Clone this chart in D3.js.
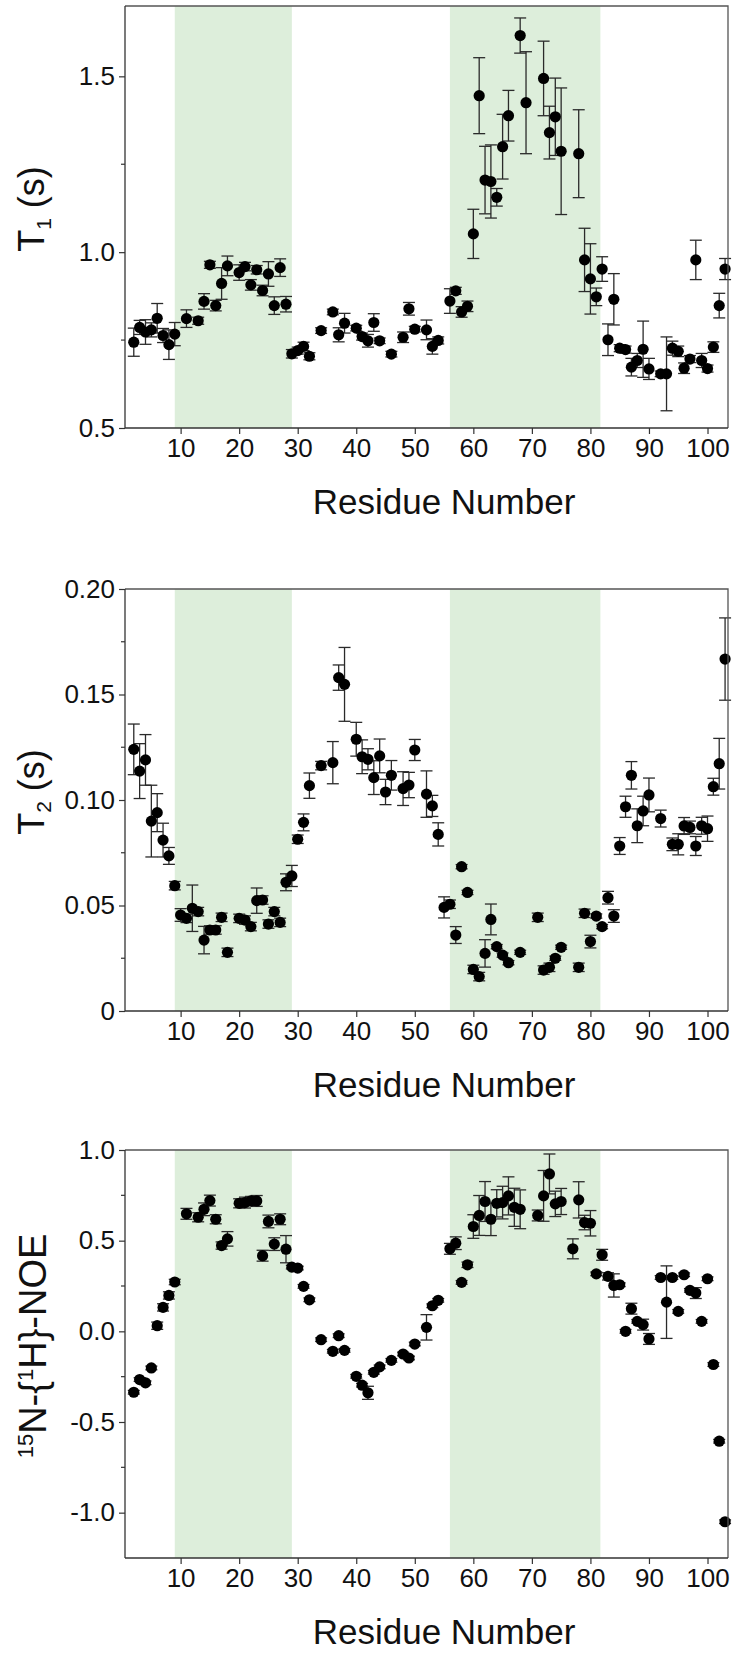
<!DOCTYPE html>
<html>
<head>
<meta charset="utf-8">
<script src="https://cdn.jsdelivr.net/npm/d3@7"></script>
<style>
  body { margin: 0; background: #fff; }
  svg { display: block; }
  text { font-family: Arial, "Liberation Sans", sans-serif; fill: #111; }
</style>
</head>
<body>
<svg id="chart" width="733" height="1660"></svg>
<script>
// ---- Data ---------------------------------------------------------------
// 15N longitudinal relaxation time T1 (s)
const t1Residues = [2,3,4,5,6,7,8,9,11,13,14,15,16,17,18,20,21,22,23,24,25,26,27,28,29,30,31,32,34,36,37,38,40,41,42,43,44,46,48,49,50,52,53,54,56,57,58,59,60,61,62,63,64,65,66,68,69,72,73,74,75,78,79,80,81,82,83,84,85,86,87,88,89,90,92,93,94,95,96,97,98,99,100,101,102,103];
const t1Values = [0.744,0.786,0.773,0.779,0.812,0.763,0.737,0.767,0.811,0.805,0.860,0.964,0.848,0.911,0.961,0.942,0.959,0.907,0.950,0.891,0.938,0.848,0.956,0.852,0.711,0.720,0.732,0.704,0.777,0.830,0.765,0.798,0.784,0.760,0.748,0.800,0.748,0.710,0.758,0.839,0.781,0.779,0.732,0.749,0.861,0.890,0.830,0.846,1.052,1.445,1.205,1.201,1.156,1.300,1.388,1.616,1.425,1.494,1.340,1.385,1.287,1.280,0.978,0.924,0.873,0.952,0.751,0.866,0.727,0.723,0.673,0.692,0.724,0.668,0.654,0.654,0.727,0.718,0.670,0.696,0.978,0.692,0.669,0.730,0.848,0.952];
const t1Errors = [0.040,0.020,0.035,0.020,0.042,0.020,0.042,0.033,0.025,0.010,0.022,0.010,0.015,0.045,0.028,0.022,0.012,0.015,0.012,0.015,0.035,0.025,0.025,0.022,0.012,0.010,0.012,0.010,0.008,0.008,0.020,0.028,0.008,0.010,0.018,0.025,0.008,0.008,0.015,0.018,0.008,0.028,0.022,0.010,0.035,0.010,0.015,0.015,0.070,0.108,0.096,0.104,0.025,0.092,0.072,0.050,0.145,0.106,0.075,0.110,0.180,0.125,0.090,0.100,0.025,0.035,0.045,0.073,0.010,0.010,0.025,0.020,0.080,0.030,0.008,0.105,0.020,0.015,0.015,0.010,0.056,0.020,0.010,0.015,0.035,0.030];

// 15N transverse relaxation time T2 (s)
const t2Residues = [2,3,4,5,6,7,8,9,10,11,12,13,14,15,16,17,18,20,21,22,23,24,25,26,27,28,29,30,31,32,34,36,37,38,40,41,42,43,44,45,46,48,49,50,52,53,54,55,56,57,58,59,60,61,62,63,64,65,66,68,71,72,73,74,75,78,79,80,81,82,83,84,85,86,87,88,89,90,92,94,95,96,97,98,99,100,101,102,103];
const t2Values = [0.124,0.1137,0.119,0.090,0.094,0.081,0.0735,0.0594,0.0455,0.0439,0.0487,0.0471,0.0336,0.0384,0.0384,0.0444,0.0278,0.0439,0.0431,0.040,0.0523,0.0526,0.0412,0.0471,0.042,0.061,0.064,0.0814,0.0894,0.1068,0.1163,0.1177,0.158,0.1548,0.1288,0.1205,0.1193,0.1106,0.1209,0.1038,0.1117,0.1054,0.1071,0.1237,0.1028,0.0972,0.0837,0.0491,0.0506,0.036,0.0684,0.0562,0.0197,0.0163,0.0273,0.0434,0.0305,0.0265,0.0229,0.0278,0.0444,0.0194,0.0207,0.025,0.0302,0.0207,0.0463,0.0329,0.045,0.040,0.0537,0.045,0.0782,0.0968,0.1117,0.0878,0.0948,0.1024,0.0912,0.079,0.079,0.0877,0.087,0.0782,0.0878,0.0864,0.1063,0.1172,0.1668];
const t2Errors = [0.012,0.013,0.012,0.017,0.009,0.008,0.004,0.002,0.003,0.002,0.011,0.002,0.0065,0.002,0.002,0.002,0.002,0.002,0.002,0.002,0.006,0.002,0.002,0.002,0.002,0.004,0.005,0.002,0.004,0.006,0.002,0.010,0.006,0.0175,0.008,0.008,0.005,0.008,0.008,0.006,0.007,0.008,0.006,0.005,0.011,0.005,0.0055,0.005,0.002,0.004,0.001,0.001,0.002,0.002,0.0065,0.0073,0.001,0.001,0.001,0.001,0.002,0.002,0.002,0.001,0.001,0.002,0.002,0.003,0.001,0.001,0.003,0.003,0.004,0.005,0.0065,0.008,0.007,0.008,0.004,0.003,0.005,0.004,0.003,0.0045,0.004,0.006,0.004,0.012,0.0195];

// Heteronuclear 15N-{1H} NOE
const noeResidues = [2,3,4,5,6,7,8,9,11,13,14,15,16,17,18,20,21,22,23,24,25,26,27,28,29,30,31,32,34,36,37,38,40,41,42,43,44,46,48,49,50,52,53,54,56,57,58,59,60,61,62,63,64,65,66,67,68,71,72,73,74,75,77,78,79,80,81,82,83,84,85,86,87,88,89,90,92,93,94,95,96,97,98,99,100,101,102,103];
const noeValues = [-0.336,-0.266,-0.284,-0.202,0.031,0.132,0.198,0.272,0.648,0.629,0.673,0.721,0.618,0.473,0.510,0.706,0.710,0.719,0.719,0.417,0.606,0.481,0.618,0.453,0.354,0.349,0.248,0.174,-0.046,-0.110,-0.024,-0.105,-0.248,-0.297,-0.339,-0.226,-0.196,-0.160,-0.125,-0.147,-0.070,0.022,0.141,0.171,0.455,0.486,0.270,0.367,0.578,0.639,0.716,0.618,0.706,0.710,0.747,0.684,0.673,0.639,0.747,0.868,0.703,0.716,0.455,0.725,0.600,0.596,0.317,0.422,0.303,0.253,0.257,0.000,0.125,0.055,0.037,-0.042,0.297,0.161,0.297,0.110,0.312,0.226,0.211,0.055,0.290,-0.183,-0.606,-1.050];
const noeErrors = [0.01,0.01,0.01,0.01,0.02,0.02,0.02,0.015,0.03,0.025,0.035,0.03,0.025,0.02,0.04,0.025,0.03,0.025,0.03,0.03,0.035,0.035,0.03,0.075,0.01,0.01,0.01,0.01,0.01,0.01,0.01,0.01,0.01,0.01,0.036,0.01,0.01,0.01,0.01,0.01,0.01,0.07,0.01,0.01,0.03,0.035,0.01,0.015,0.065,0.11,0.11,0.09,0.075,0.09,0.105,0.105,0.107,0.03,0.14,0.11,0.07,0.072,0.055,0.10,0.04,0.07,0.01,0.03,0.02,0.064,0.01,0.01,0.03,0.01,0.03,0.03,0.01,0.20,0.01,0.01,0.01,0.01,0.03,0.01,0.01,0.01,0.01,0.01];

// Shaded residue ranges
const bandStarts = [9, 56];
const bandEnds = [29, 81.7];

// Axis ticks
const xTicks = [10, 20, 30, 40, 50, 60, 70, 80, 90, 100];
const t1Ticks = [0.5, 1.0, 1.5];
const t1Minor = [0.75, 1.25];
const t2Ticks = [0, 0.05, 0.10, 0.15, 0.20];
const t2TickLabels = ["0", "0.05", "0.10", "0.15", "0.20"];
const t2Minor = [0.025, 0.075, 0.125, 0.175];
const noeTicks = [-1.0, -0.5, 0.0, 0.5, 1.0];
const noeMinor = [-0.75, -0.25, 0.25, 0.75];

// ---- Layout -------------------------------------------------------------
const svg = d3.select("#chart");
const plotLeft = 125, plotRight = 728;
const x = d3.scaleLinear().domain([0.5, 103.5]).range([plotLeft, plotRight]);

const panels = [
  { res: t1Residues, val: t1Values, err: t1Errors, domain: [0.5, 1.7], top: 6, bottom: 428,
    ticks: t1Ticks, labels: t1Ticks.map(d3.format(".1f")), minor: t1Minor, title: "t1" },
  { res: t2Residues, val: t2Values, err: t2Errors, domain: [0, 0.2], top: 589, bottom: 1011,
    ticks: t2Ticks, labels: t2TickLabels, minor: t2Minor, title: "t2" },
  { res: noeResidues, val: noeValues, err: noeErrors, domain: [-1.25, 1.0], top: 1150, bottom: 1558,
    ticks: noeTicks, labels: noeTicks.map(d3.format(".1f")).map(s => s.replace("−", "-")), minor: noeMinor, title: "noe" }
];

const axisColor = "#333";
const tickFont = 26;

panels.forEach(p => {
  const y = d3.scaleLinear().domain(p.domain).range([p.bottom, p.top]);
  const g = svg.append("g");

  // shaded bands
  g.selectAll("rect.band").data(bandStarts).join("rect")
    .attr("class", "band")
    .attr("x", (d) => x(d))
    .attr("width", (d, i) => x(bandEnds[i]) - x(d))
    .attr("y", p.top)
    .attr("height", p.bottom - p.top)
    .attr("fill", "#ddeedb");

  const pts = p.res.map((r, i) => ({ r, v: p.val[i], e: p.err[i] }));

  // error bars
  const eb = g.append("g").attr("stroke", "#2a2a2a").attr("stroke-width", 1.3).attr("fill", "none");
  eb.selectAll("line.stem").data(pts).join("line")
    .attr("x1", d => x(d.r)).attr("x2", d => x(d.r))
    .attr("y1", d => y(d.v - d.e)).attr("y2", d => y(d.v + d.e));
  eb.selectAll("line.capTop").data(pts).join("line")
    .attr("x1", d => x(d.r) - 6).attr("x2", d => x(d.r) + 6)
    .attr("y1", d => y(d.v + d.e)).attr("y2", d => y(d.v + d.e));
  eb.selectAll("line.capBot").data(pts).join("line")
    .attr("x1", d => x(d.r) - 6).attr("x2", d => x(d.r) + 6)
    .attr("y1", d => y(d.v - d.e)).attr("y2", d => y(d.v - d.e));

  // points
  g.append("g").selectAll("circle").data(pts).join("circle")
    .attr("cx", d => x(d.r)).attr("cy", d => y(d.v)).attr("r", 5.6)
    .attr("fill", "#000");

  // frame (top and right)
  g.append("path")
    .attr("d", `M${plotLeft},${p.top}H${plotRight}V${p.bottom}`)
    .attr("fill", "none").attr("stroke", "#555").attr("stroke-width", 1.3);

  // bottom axis
  const xa = g.append("g").attr("transform", `translate(0,${p.bottom})`)
    .call(d3.axisBottom(x).tickValues(xTicks).tickFormat(d3.format("d")).tickSize(6).tickPadding(5));
  xa.select(".domain").attr("stroke", axisColor).attr("stroke-width", 1.3).attr("d", `M${plotLeft},0H${plotRight}`);
  xa.selectAll(".tick line").attr("stroke", axisColor).attr("stroke-width", 1.2);
  xa.selectAll(".tick text").attr("font-size", tickFont).attr("fill", "#111")
    .style("font-family", "Arial, 'Liberation Sans', sans-serif");

  // left axis with minor ticks
  const ya = g.append("g").attr("transform", `translate(${plotLeft},0)`)
    .call(d3.axisLeft(y).tickValues(p.ticks).tickFormat((d, i) => p.labels[i]).tickSize(6).tickPadding(4));
  ya.select(".domain").attr("stroke", axisColor).attr("stroke-width", 1.3).attr("d", `M0,${p.top}V${p.bottom}`);
  ya.selectAll(".tick line").attr("stroke", axisColor).attr("stroke-width", 1.2);
  ya.selectAll(".tick text").attr("font-size", tickFont).attr("fill", "#111")
    .style("font-family", "Arial, 'Liberation Sans', sans-serif");
  g.append("g").selectAll("line").data(p.minor).join("line")
    .attr("x1", plotLeft - 4).attr("x2", plotLeft)
    .attr("y1", d => y(d)).attr("y2", d => y(d))
    .attr("stroke", axisColor).attr("stroke-width", 1.2);

  // x axis title
  g.append("text")
    .attr("x", 444).attr("y", p.bottom + 86)
    .attr("text-anchor", "middle").attr("font-size", 35)
    .text("Residue Number");

  // y axis title
  const cy = (p.top + p.bottom) / 2;
  const yt = g.append("text")
    .attr("text-anchor", "middle");
  if (p.title === "t1" || p.title === "t2") {
    yt.attr("transform", `translate(44,${cy - 8}) rotate(-90)`).attr("font-size", 36);
    yt.append("tspan").text("T");
    yt.append("tspan").attr("font-size", 21).attr("dy", 7).text(p.title === "t1" ? "1" : "2");
    yt.append("tspan").attr("dy", -7).text(" (s)");
  } else {
    yt.attr("transform", `translate(46,${cy - 8}) rotate(-90)`).attr("font-size", 38);
    yt.append("tspan").attr("font-size", 22).attr("dy", -13).text("15");
    yt.append("tspan").attr("dy", 13).text("N-{");
    yt.append("tspan").attr("font-size", 22).attr("dy", -13).text("1");
    yt.append("tspan").attr("dy", 13).text("H}-NOE");
  }
});
</script>
</body>
</html>
